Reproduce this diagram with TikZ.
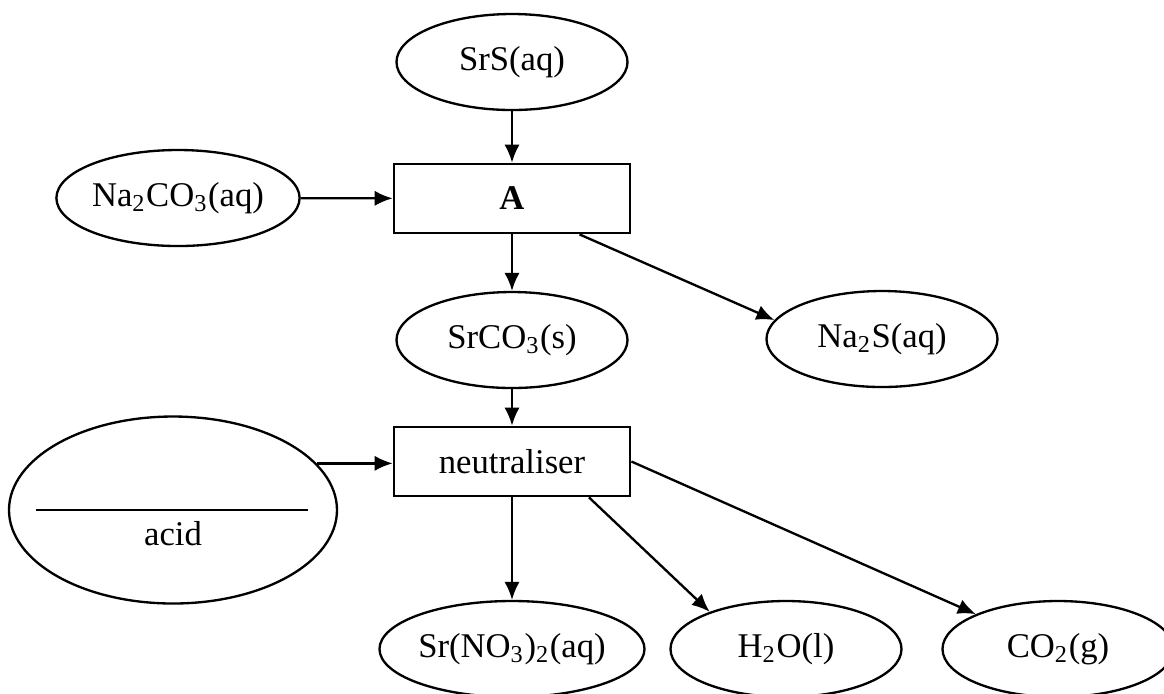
\documentclass[tikz,border=0pt]{standalone}
\usepackage{fontspec}
\setmainfont{Liberation Serif}
\usetikzlibrary{positioning,arrows.meta,shapes.geometric}

\begin{document}
\begin{tikzpicture}[x=0.3pt,y=-0.3pt,font=\fontsize{10.4}{12}\selectfont,
        chem/.style={ellipse,draw,line width=0.7pt,inner sep=0pt,
            minimum width=69.3pt,minimum height=28.8pt},
        unit/.style={rectangle,draw,line width=0.85pt,inner sep=0pt,
            minimum width=70.8pt,minimum height=20.7pt},
        flow/.style={-{Latex[length=5.4pt,width=4.6pt]},line width=0.7pt}]
            \useasboundingbox (0,0) rectangle (1164,693);
            \node[unit] (boxA) at (512,198.5) {\textbf{A}};
            \node[unit] (neut) at (512,461.5) {neutraliser};
            \node[chem] (srs) at (512,62) {SrS(aq)};
            \node[chem] (na2co3) at (178,198) {Na\textsubscript{2}CO\textsubscript{3}(aq)};
            \node[chem] (srco3) at (512,340) {SrCO\textsubscript{3}(s)};
            \node[chem] (na2s) at (882,339) {Na\textsubscript{2}S(aq)};
            \node[chem,minimum width=98.4pt,minimum height=56.1pt] (acid) at (173,510) {};
            \node (acidlbl) at (173,534) {acid};
            \draw[line width=0.4pt] ([xshift=8.4pt]acid.west) -- ([xshift=-9pt]acid.east);
            \node[chem] (srno3) at (512,649) {Sr(NO\textsubscript{3})\textsubscript{2}(aq)};
            \node[chem] (h2o) at (786,649) {H\textsubscript{2}O(l)};
            \node[chem] (co2) at (1058,649) {CO\textsubscript{2}(g)};
            \draw[flow] (srs) -- (boxA);
            \draw[flow] (na2co3) -- (boxA);
            \draw[flow] (boxA) -- (srco3);
            \draw[flow] (boxA.-28) -- (na2s.170);
            \draw[flow] (srco3) -- (neut);
            \draw[flow] (acid.18) -- (acid.18 -| neut.west);
            \draw[flow] (neut) -- (srno3);
            \draw[flow] (neut.-25) -- (h2o.154);
            \draw[flow] (neut.east) -- (co2.157);
        \end{tikzpicture}
\end{document}
